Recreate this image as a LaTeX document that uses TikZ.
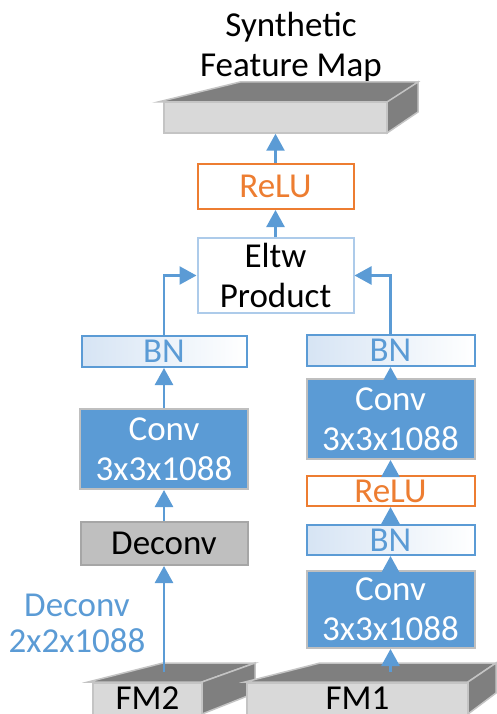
\documentclass[tikz,border=0pt]{standalone}
\usepackage{fontspec}
\setmainfont{Carlito}
\usetikzlibrary{arrows.meta}

\definecolor{lineblue}{HTML}{5B9BD5}
\definecolor{reluorange}{HTML}{ED7D31}
\definecolor{eltwblue}{HTML}{ADCBEA}
\definecolor{bnshade}{HTML}{D6E4F4}
\definecolor{convedge}{HTML}{BFBFBF}
\definecolor{deconvfill}{HTML}{BFBFBF}
\definecolor{deconvedge}{HTML}{A6A6A6}
\definecolor{slabfront}{HTML}{D9D9D9}
\definecolor{slabdark}{HTML}{7F7F7F}
\definecolor{slabedge}{HTML}{C4C4C4}

\tikzset{
  every node/.style={font=\fontsize{35}{40}\selectfont, inner sep=0pt, align=center},
  flow/.style={draw=lineblue, line width=2.5pt, -{Triangle[length=17pt,width=18pt]}},
  relubox/.style={draw=reluorange, line width=2pt, fill=white, text=reluorange},
  bnbox/.style={draw=lineblue, line width=2pt, left color=bnshade, right color=white, text=lineblue},
  convbox/.style={draw=convedge, line width=2pt, fill=lineblue, text=white},
  deconvbox/.style={draw=deconvedge, line width=2pt, fill=deconvfill, text=black},
  eltwbox/.style={draw=eltwblue, line width=2pt, fill=white, text=black},
  slabface/.style={fill=slabfront, draw=slabedge, line width=1.5pt},
  slabtop/.style={fill=slabdark, draw=slabedge, line width=1.5pt}
}

\begin{document}
\begin{tikzpicture}[x=1pt, y=-1pt]

  % Fix the page to the size of the reference
  \useasboundingbox (0,0) rectangle (496,714);

  % Title over the output map
  \node (title) at (291,47) {Synthetic\\Feature Map};

  % Synthetic feature map slab
  \fill[slabtop] (158,102) -- (240,82) -- (418,82) -- (390,102) -- cycle;
  \fill[slabtop] (387,102) -- (418,82) -- (418,112) -- (387,133) -- cycle;
  \node[slabface, minimum width=223pt, minimum height=31pt] (synth) at (275.5,117.5) {};

  % Middle column
  \node[relubox, minimum width=156pt, minimum height=45pt] (relu) at (275.5,186.5) {ReLU};
  \node[eltwbox, minimum width=156pt, minimum height=75pt] (eltw) at (275.5,275.5) {Eltw\\Product};

  % Left branch (FM2)
  \node[bnbox, minimum width=165pt, minimum height=31pt] (bnL) at (164,351.5) {BN};
  \node[convbox, minimum width=168pt, minimum height=80pt] (convL) at (164,449) {Conv\\3x3x1088};
  \node[deconvbox, minimum width=167pt, minimum height=43pt] (deconv) at (164,543.5) {Deconv};
  \node[text=lineblue, font=\fontsize{35}{36}\selectfont] (deconvlabel) at (77,623) {Deconv\\2x2x1088};

  % Right branch (FM1)
  \node[bnbox, minimum width=168pt, minimum height=31pt] (bnR) at (390.5,350.5) {BN};
  \node[convbox, minimum width=168pt, minimum height=80pt] (convRa) at (390.5,419) {Conv\\3x3x1088};
  \node[relubox, minimum width=168pt, minimum height=30pt] (reluR) at (390.5,491) {ReLU};
  \node[bnbox, minimum width=168pt, minimum height=30pt] (bnRb) at (390.5,540) {BN};
  \node[convbox, minimum width=168pt, minimum height=77pt] (convRb) at (390.5,609.5) {Conv\\3x3x1088};

  % Input slabs FM2 and FM1
  \fill[slabtop] (88,682) -- (163,663) -- (255,663) -- (202,682) -- cycle;
  \fill[slabtop] (202,682) -- (255,663) -- (255,693) -- (202,714) -- cycle;
  \node[slabface, minimum width=109pt, minimum height=34pt, anchor=north] (fm2) at (147.5,682) {};
  \node[anchor=base] (fm2text) at (147.5,709) {FM2};
  \fill[slabtop] (245,682) -- (320,663) -- (496,663) -- (468,682) -- cycle;
  \fill[slabtop] (468,682) -- (496,663) -- (496,693) -- (468,714) -- cycle;
  \node[slabface, minimum width=221pt, minimum height=34pt, anchor=north] (fm1) at (357.5,682) {};
  \node[anchor=base] (fm1text) at (357.5,709) {FM1};

  % Arrow starts on the top faces
  \coordinate (fm2top) at (164,672);
  \coordinate (fm1top) at (390.5,672);

  % Connections
  \draw[flow] (fm2top) -- (deconv.south);
  \draw[flow] (deconv.north) -- (convL.south);
  \draw[flow] (convL.north) -- (bnL.south);
  \draw[flow] (bnL.north) |- (eltw.west);

  \draw[flow] (fm1top) -- (convRb.south);
  \draw[flow] (convRb.north) -- (bnRb.south);
  \draw[flow] (bnRb.north) -- (reluR.south);
  \draw[flow] (reluR.north) -- (convRa.south);
  \draw[flow] (convRa.north) -- (bnR.south);
  \draw[flow] (bnR.north) |- (eltw.east);

  \draw[flow] (eltw.north) -- (relu.south);
  \draw[flow] (relu.north) -- (synth.south);

\end{tikzpicture}
\end{document}
